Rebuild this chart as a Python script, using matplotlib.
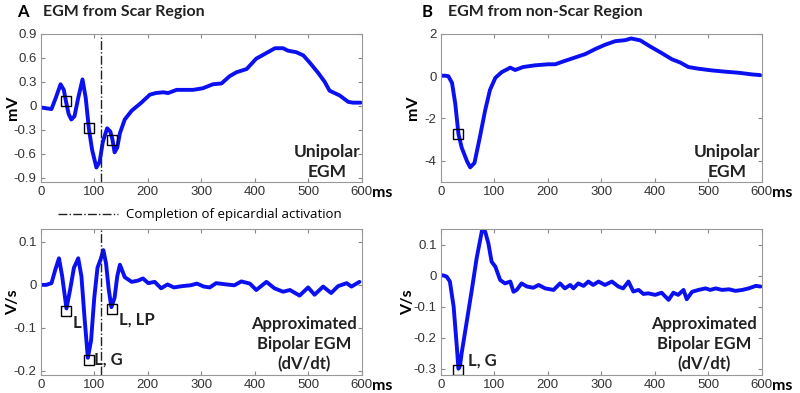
import matplotlib.pyplot as plt
from matplotlib.lines import Line2D

# Panel A: unipolar EGM (scar region), mV
a_uni_t = [0, 10, 20, 28, 37, 43, 47, 52, 57, 63, 70, 78, 84, 90, 96, 104, 110, 116,
           124, 130, 134, 138, 143, 148, 157, 170, 188, 204, 215, 229, 238, 254, 285,
           303, 322, 338, 353, 366, 385, 403, 422, 438, 453, 462, 478, 491, 503, 519,
           531, 540, 559, 575, 584, 598]
a_uni_v = [-0.02, -0.03, -0.04, 0.10, 0.27, 0.20, 0.06, -0.10, -0.17, -0.13, 0.10, 0.33,
           0.10, -0.29, -0.55, -0.77, -0.70, -0.45, -0.28, -0.32, -0.42, -0.58, -0.52,
           -0.34, -0.17, -0.06, 0.04, 0.14, 0.16, 0.17, 0.16, 0.20, 0.20, 0.22, 0.27,
           0.28, 0.37, 0.42, 0.46, 0.59, 0.66, 0.72, 0.72, 0.69, 0.67, 0.63, 0.54, 0.41,
           0.30, 0.19, 0.13, 0.05, 0.04, 0.04]
a_uni_marks_t = [47, 90, 134]
a_uni_marks_v = [0.06, -0.28, -0.42]

# Panel A: approximated bipolar EGM (dV/dt), V/s
a_bip_t = [0, 10, 20, 27, 34, 40, 48, 55, 62, 70, 76, 82, 88, 94, 100, 106, 112, 117,
           122, 127, 132, 138, 143, 148, 157, 170, 182, 191, 201, 213, 225, 237, 249,
           264, 280, 292, 305, 316, 328, 347, 362, 375, 391, 403, 422, 437, 453, 466,
           484, 500, 512, 528, 543, 556, 572, 581, 596]
a_bip_v = [0.0, 0.0, 0.004, 0.035, 0.062, 0.020, -0.055, -0.010, 0.040, 0.062, 0.020,
           -0.080, -0.170, -0.130, -0.030, 0.040, 0.060, 0.081, 0.050, -0.010, -0.052,
           -0.030, 0.020, 0.047, 0.018, 0.007, 0.010, 0.015, 0.004, 0.007, -0.008, 0.001,
           -0.006, -0.003, -0.001, 0.003, -0.004, -0.006, 0.004, 0.001, -0.001, 0.008,
           0.003, -0.012, 0.007, -0.008, -0.016, -0.012, -0.025, -0.006, -0.023, -0.004,
           -0.019, -0.003, 0.004, -0.004, 0.007]
a_bip_marks_t = [47, 90, 134]
a_bip_marks_v = [-0.062, -0.175, -0.056]
a_bip_labels = ["L", "L, G", "L, LP"]

# Panel B: unipolar EGM (non-scar region), mV
b_uni_t = [0, 8, 14, 21, 27, 33, 39, 49, 55, 63, 73, 83, 92, 102, 114, 130, 139, 154,
           176, 201, 214, 232, 251, 270, 289, 307, 326, 345, 356, 373, 391, 413, 432,
           448, 463, 482, 507, 532, 557, 582, 597]
b_uni_v = [0.02, 0.02, 0.0, -0.32, -1.29, -2.73, -3.37, -4.02, -4.31, -4.10, -2.89,
           -1.61, -0.65, -0.08, 0.19, 0.40, 0.29, 0.43, 0.51, 0.56, 0.56, 0.72, 0.88,
           1.04, 1.28, 1.48, 1.65, 1.70, 1.78, 1.69, 1.41, 1.09, 0.80, 0.64, 0.43, 0.35,
           0.27, 0.21, 0.16, 0.08, 0.05]
b_uni_marks_t = [32]
b_uni_marks_v = [-2.75]

# Panel B: approximated bipolar EGM (dV/dt), V/s
b_bip_t = [0, 6, 11, 17, 24, 30, 33, 36, 39, 49, 58, 67, 77, 83, 89, 95, 102, 111, 120,
           130, 136, 142, 151, 161, 173, 183, 195, 211, 223, 232, 242, 248, 257, 267,
           276, 285, 295, 307, 320, 332, 341, 351, 360, 370, 379, 388, 401, 413, 426,
           435, 444, 454, 460, 470, 482, 495, 504, 514, 526, 539, 551, 564, 576, 589, 598]
b_bip_v = [0.002, 0.0, -0.003, -0.019, -0.100, -0.230, -0.300, -0.290, -0.250, -0.143,
           -0.046, 0.056, 0.145, 0.142, 0.104, 0.045, 0.029, -0.014, -0.025, -0.019,
           -0.052, -0.046, -0.025, -0.035, -0.039, -0.030, -0.041, -0.046, -0.025,
           -0.041, -0.030, -0.041, -0.025, -0.033, -0.019, -0.030, -0.019, -0.030,
           -0.019, -0.035, -0.041, -0.019, -0.051, -0.046, -0.059, -0.057, -0.062,
           -0.055, -0.078, -0.055, -0.062, -0.046, -0.076, -0.052, -0.046, -0.041,
           -0.046, -0.041, -0.046, -0.044, -0.049, -0.046, -0.041, -0.033, -0.035]
b_bip_marks_t = [32]
b_bip_marks_v = [-0.305]
b_bip_labels = ["L, G"]

epi_time = 112

LINE_COLOR = "#0a10f0"
TEXT_COLOR = "#222222"
TICK_FONT = ["Liberation Sans", "DejaVu Sans"]
BOLD_FONT = ["Lato", "DejaVu Sans"]


def style_axes(ax, yticks, ylabels, ylim, ylabel, label_x=-0.065):
    ax.set_xlim(0, 600)
    ax.set_ylim(*ylim)
    ax.set_xticks([0, 100, 200, 300, 400, 500, 600])
    ax.set_xticklabels(["0", "100", "200", "300", "400", "500", "600"],
                       fontsize=9.5, family=TICK_FONT, color="#333333")
    ax.set_yticks(yticks)
    ax.set_yticklabels(ylabels, fontsize=9.5, family=TICK_FONT, color="#333333")
    ax.tick_params(direction="in", top=True, right=True, length=3,
                   color="#888888", pad=3)
    for s in ax.spines.values():
        s.set_color("#999999")
        s.set_linewidth(0.8)
    ax.set_ylabel(ylabel, fontsize=11.5, fontweight="bold", family=BOLD_FONT)
    ax.yaxis.set_label_coords(label_x, 0.5)
    ax.text(1.033, -0.03, "ms", transform=ax.transAxes, fontsize=11.5,
            fontweight="bold", family=BOLD_FONT, va="top", ha="left")


def plot_curve(ax, t, v, mt, mv):
    ax.plot(t, v, color=LINE_COLOR, linewidth=2.8, solid_capstyle="round",
            solid_joinstyle="round")
    ax.plot(mt, mv, linestyle="none", marker="s", markersize=7,
            markerfacecolor="none", markeredgecolor="black", markeredgewidth=1.0)


def main():
    fig = plt.figure(figsize=(8, 3.93), dpi=100)
    ax_a1 = fig.add_axes([0.051, 0.537, 0.401, 0.377])
    ax_a2 = fig.add_axes([0.051, 0.046, 0.401, 0.371])
    ax_b1 = fig.add_axes([0.551, 0.537, 0.401, 0.377])
    ax_b2 = fig.add_axes([0.551, 0.046, 0.401, 0.371])

    # Panel A
    plot_curve(ax_a1, a_uni_t, a_uni_v, a_uni_marks_t, a_uni_marks_v)
    plot_curve(ax_a2, a_bip_t, a_bip_v, a_bip_marks_t, a_bip_marks_v)
    for ax in (ax_a1, ax_a2):
        ax.axvline(epi_time, color="#222222", linestyle="-.", linewidth=1.0)
    style_axes(ax_a1, [-0.9, -0.6, -0.3, 0, 0.3, 0.6, 0.9],
               ["-0.9", "-0.6", "-0.3", "0", "0.3", "0.6", "0.9"],
               (-0.95, 0.9), "mV")
    style_axes(ax_a2, [-0.2, -0.1, 0, 0.1], ["-0.2", "-0.1", "0", "0.1"],
               (-0.21, 0.13), "V/s")

    offsets = [(5, -8), (4, 0), (5, -8)]
    for lab, x, y, off in zip(a_bip_labels, a_bip_marks_t, a_bip_marks_v, offsets):
        ax_a2.annotate(lab, (x, y), xytext=off, textcoords="offset points",
                       fontsize=12, fontweight="bold", family=BOLD_FONT,
                       va="center", ha="left", color=TEXT_COLOR)

    # Panel B
    plot_curve(ax_b1, b_uni_t, b_uni_v, b_uni_marks_t, b_uni_marks_v)
    plot_curve(ax_b2, b_bip_t, b_bip_v, b_bip_marks_t, b_bip_marks_v)
    style_axes(ax_b1, [-4, -2, 0, 2], ["-4", "-2", "0", "2"], (-5, 2), "mV")
    style_axes(ax_b2, [-0.3, -0.2, -0.1, 0, 0.1],
               ["-0.3", "-0.2", "-0.1", "0", "0.1"], (-0.32, 0.15), "V/s",
               label_x=-0.08)
    ax_b2.annotate(b_bip_labels[0], (b_bip_marks_t[0], b_bip_marks_v[0]),
                   xytext=(7, 7), textcoords="offset points", fontsize=12,
                   fontweight="bold", family=BOLD_FONT, va="center", ha="left",
                   color=TEXT_COLOR)

    # Inset descriptions
    for ax in (ax_a1, ax_b1):
        ax.text(0.894, 0.015, "Unipolar\nEGM", transform=ax.transAxes,
                fontsize=12.5, fontweight="bold", family=BOLD_FONT,
                ha="center", va="bottom", linespacing=1.3, color=TEXT_COLOR)
    for ax in (ax_a2, ax_b2):
        ax.text(0.82, 0.02, "Approximated\nBipolar EGM\n(dV/dt)",
                transform=ax.transAxes, fontsize=12, fontweight="bold",
                family=BOLD_FONT, ha="center", va="bottom", linespacing=1.3,
                color=TEXT_COLOR)

    # Panel titles
    fig.text(0.021, 0.97, "A", fontsize=12, fontweight="bold", family=BOLD_FONT,
             va="center")
    fig.text(0.054, 0.97, "EGM from Scar Region", fontsize=11.5,
             fontweight="bold", family=BOLD_FONT, va="center", color=TEXT_COLOR)
    fig.text(0.527, 0.97, "B", fontsize=12, fontweight="bold", family=BOLD_FONT,
             va="center")
    fig.text(0.56, 0.97, "EGM from non-Scar Region", fontsize=11.5,
             fontweight="bold", family=BOLD_FONT, va="center", color=TEXT_COLOR)

    # Legend for the dash-dot marker line
    handle = Line2D([], [], color="#222222", linestyle="-.", linewidth=1.0)
    fig.legend([handle], ["Completion of epicardial activation"],
               loc="center", bbox_to_anchor=(0.25, 0.453), frameon=False,
               handlelength=4.5, handletextpad=0.6,
               prop={"family": "Open Sans", "size": 9.5})

    fig.savefig("out.png", dpi=100)


if __name__ == "__main__":
    main()
